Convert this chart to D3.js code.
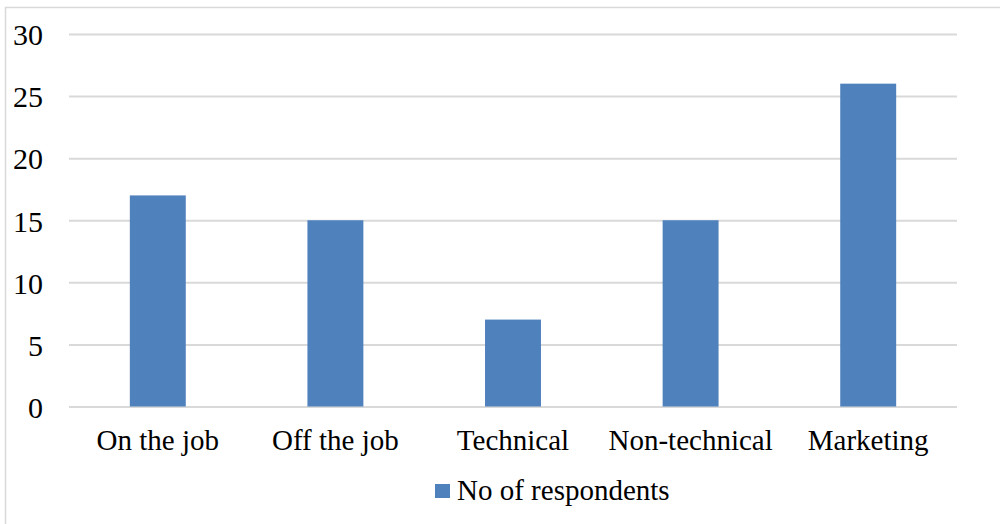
<!DOCTYPE html>
<html>
<head>
<meta charset="utf-8">
<script src="https://cdn.jsdelivr.net/npm/d3@7"></script>
<style>
html, body { margin: 0; padding: 0; background: #fff; }
svg { display: block; }
text { font-family: "Liberation Serif", "Times New Roman", serif; fill: #000; }
</style>
</head>
<body>
<svg id="chart" width="1000" height="524"></svg>
<script>
const categories = ["On the job", "Off the job", "Technical", "Non-technical", "Marketing"];
const values = [17, 15, 7, 15, 26];
const yTicks = [0, 5, 10, 15, 20, 25, 30];
const seriesName = "No of respondents";

(function () {
const svg = d3.select("#chart");
const color = "#4F81BD";
const serif = "Liberation Serif, Times New Roman, serif";

// outer chart border
svg.append("rect")
  .attr("x", 5.5).attr("y", 7.5)
  .attr("width", 1000).attr("height", 530)
  .attr("fill", "none").attr("stroke", "#d9d9d9").attr("stroke-width", 1.5);

const mLeft = 69, mRight = 957, mTop = 34, mBottom = 406.5;

const x = d3.scaleBand().domain(categories).range([mLeft, mRight])
  .paddingInner(0.685).paddingOuter(0.3425);
const y = d3.scaleLinear().domain([0, 30]).range([mBottom, mTop]);

// gridlines + y labels
const yAxis = d3.axisLeft(y).tickValues(yTicks).tickSize(-(mRight - mLeft));
const gy = svg.append("g").attr("transform", `translate(${mLeft},0)`).call(yAxis);
gy.attr("font-family", serif).attr("font-size", 30);
gy.select(".domain").remove();
gy.selectAll(".tick line").attr("stroke", "#d9d9d9").attr("stroke-width", 2);
gy.selectAll(".tick text").attr("fill", "#000")
  .attr("text-anchor", "end").attr("x", 43 - mLeft).attr("dy", "0.36em");

// bars
svg.append("g").selectAll("rect").data(values).join("rect")
  .attr("x", (d, i) => x(categories[i]))
  .attr("y", d => y(d))
  .attr("width", x.bandwidth())
  .attr("height", d => y(0) - y(d))
  .attr("fill", color);

// x axis labels
const xAxis = d3.axisBottom(x).tickSize(0).tickPadding(23);
const gx = svg.append("g").attr("transform", `translate(0,${mBottom})`).call(xAxis);
gx.attr("font-family", serif).attr("font-size", 29);
gx.select(".domain").remove();
gx.selectAll(".tick text").attr("fill", "#000");

// legend
const lg = svg.append("g").attr("transform", "translate(435,484)");
lg.append("rect").attr("width", 15).attr("height", 14).attr("fill", color);
lg.append("text").attr("x", 22).attr("y", 16).attr("font-size", 29)
  .attr("font-family", serif).text(seriesName);
})();
</script>
</body>
</html>
